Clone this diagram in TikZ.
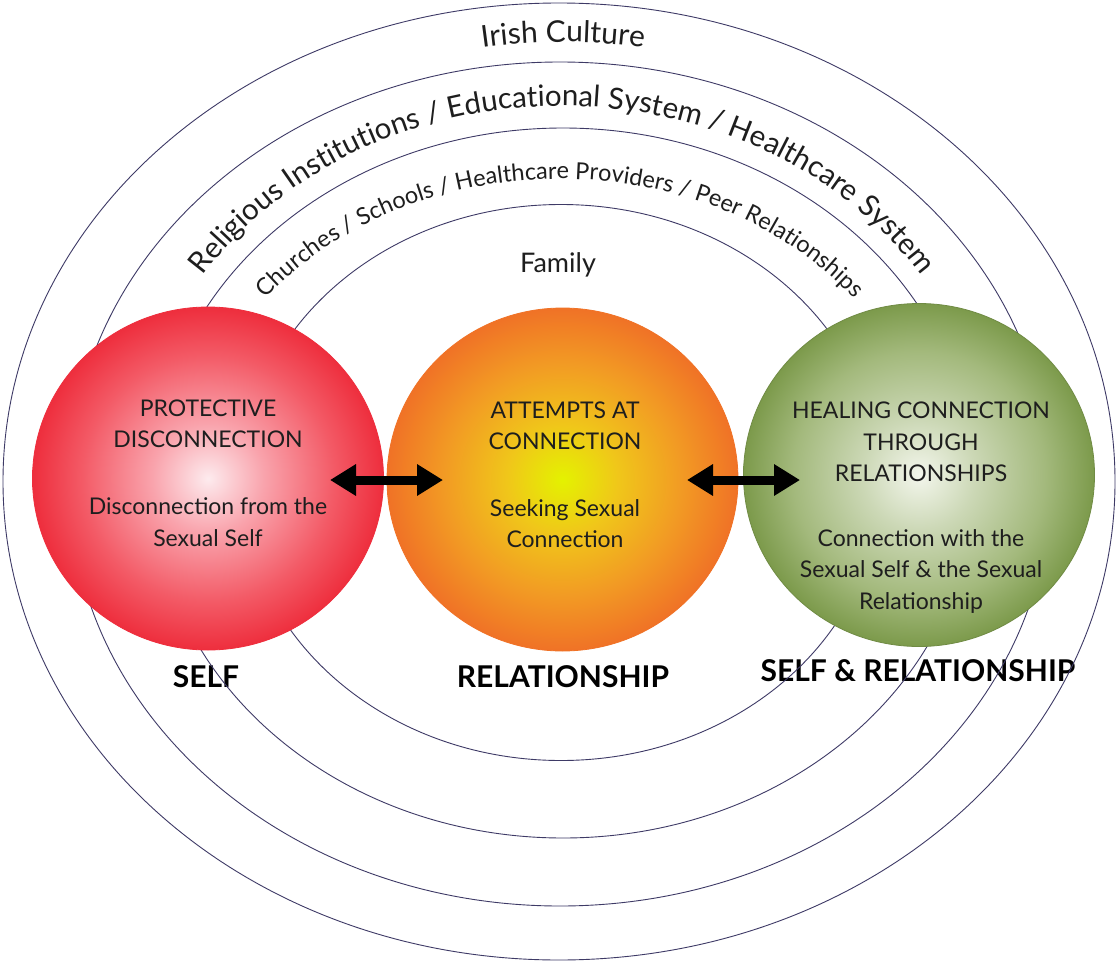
\documentclass[tikz,border=0pt]{standalone}
\usepackage{fontspec}
\setmainfont{Lato}
\usetikzlibrary{decorations.text,arrows.meta,shapes.geometric}

% ball colours: centre -> rim
\definecolor{redA}{HTML}{FDEBEE}\definecolor{redB}{HTML}{F9A3AC}
\definecolor{redC}{HTML}{F35A66}\definecolor{redD}{HTML}{EE2E3D}
\definecolor{oraA}{HTML}{E4F200}\definecolor{oraB}{HTML}{F0C61A}
\definecolor{oraC}{HTML}{F29A24}\definecolor{oraD}{HTML}{F07226}
\definecolor{grnA}{HTML}{F3F6EC}\definecolor{grnB}{HTML}{CCD8B6}
\definecolor{grnC}{HTML}{A3B97C}\definecolor{grnD}{HTML}{7C9A4B}
\definecolor{ringline}{HTML}{3E3A66}
\definecolor{ink}{HTML}{1E1E1E}

\pgfdeclareradialshading{redball}{\pgfpoint{0bp}{0bp}}{color(0bp)=(redA); color(8bp)=(redB); color(18bp)=(redC); color(25bp)=(redD); color(50bp)=(redD)}
\pgfdeclareradialshading{oraball}{\pgfpoint{0bp}{0bp}}{color(0bp)=(oraA); color(8bp)=(oraB); color(17bp)=(oraC); color(25bp)=(oraD); color(50bp)=(oraD)}
\pgfdeclareradialshading{grnball}{\pgfpoint{0bp}{0bp}}{color(0bp)=(grnA); color(8bp)=(grnB); color(18bp)=(grnC); color(25bp)=(grnD); color(50bp)=(grnD)}

\tikzset{
  ring/.style={draw=ringline, line width=0.9pt},
  ball/.style={ellipse, inner sep=0pt, minimum width=351pt, minimum height=343pt, line width=0.8pt},
  balltext/.style={align=center, text=ink, font=\fontsize{23}{31.5}\selectfont},
  levellabel/.style={text=black, font=\bfseries\fontsize{30}{30}\selectfont},
  duo/.style={line width=9pt, {Triangle[length=26pt,width=30pt]}-{Triangle[length=26pt,width=30pt]}},
  ringtext/.style={decorate, decoration={text along path, text align=center, text color=ink}}
}

\begin{document}
\begin{tikzpicture}[x=1pt,y=-1pt]
\fill[white] (0,0) rectangle (1118,963);
\useasboundingbox (0,0) rectangle (1118,963);

% level labels under the balls
\node[levellabel] (lself) at (206,677) {SELF};
\node[levellabel] (lrel) at (563,677) {RELATIONSHIP};
\node[levellabel] (lboth) at (918,671) {SELF \& RELATIONSHIP};

% nested context rings
\draw[ring] (559,481.5) ellipse [x radius=556pt, y radius=478.5pt];
\draw[ring] (560,484) ellipse [x radius=490pt, y radius=422pt];
\draw[ring] (563,483) ellipse [x radius=410pt, y radius=355pt];
\draw[ring] (561,482.5) ellipse [x radius=319pt, y radius=278pt];

% ring captions
\path[ringtext, decoration={text={|\fontsize{30}{30}\selectfont|Irish Culture}}]
  (563,483) ++(130:505pt and 441pt) arc[start angle=130, end angle=50, x radius=505pt, y radius=441pt];
\path[ringtext, decoration={text={|\fontsize{29.5}{29.5}\selectfont|Religious Institutions / Educational System / Healthcare System}}]
  (562,483) ++(178:430pt and 377pt) arc[start angle=178, end angle=2, x radius=430pt, y radius=377pt];
\path[ringtext, decoration={text={|\fontsize{23.5}{23.5}\selectfont|Churches / Schools / Healthcare Providers / Peer Relationships}}]
  (560,483) ++(178:370pt and 304pt) arc[start angle=178, end angle=2, x radius=370pt, y radius=304pt];
\node[anchor=base, text=ink, font=\fontsize{27}{27}\selectfont] (family) at (558,272) {Family};

% the three balls
\node[ball, shading=redball, draw=redD] (self) at (208,478.5) {};
\node[ball, shading=oraball, draw=oraD] (rel) at (562.5,479.5) {};
\node[ball, shading=grnball, draw=grnD!90!black] (both) at (919,475) {};

\node[balltext] (selft) at (208,424) {PROTECTIVE\\DISCONNECTION};
\node[balltext] (selfs) at (208,522) {Disconnection from the\\Sexual Self};
\node[balltext] (relt) at (565,426) {ATTEMPTS AT\\CONNECTION};
\node[balltext] (rels) at (565,523.5) {Seeking Sexual\\Connection};
\node[balltext] (botht) at (921,442) {HEALING CONNECTION\\THROUGH\\RELATIONSHIPS};
\node[balltext] (boths) at (921,571) {Connection with the\\Sexual Self \& the Sexual\\Relationship};

% two-way arrows between the balls
\coordinate (a1l) at (330,480);
\coordinate (a1r) at (443,480);
\coordinate (a2l) at (687,480);
\coordinate (a2r) at (800,480);
\draw[duo] (a1l) -- (a1r);
\draw[duo] (a2l) -- (a2r);
\end{tikzpicture}
\end{document}
